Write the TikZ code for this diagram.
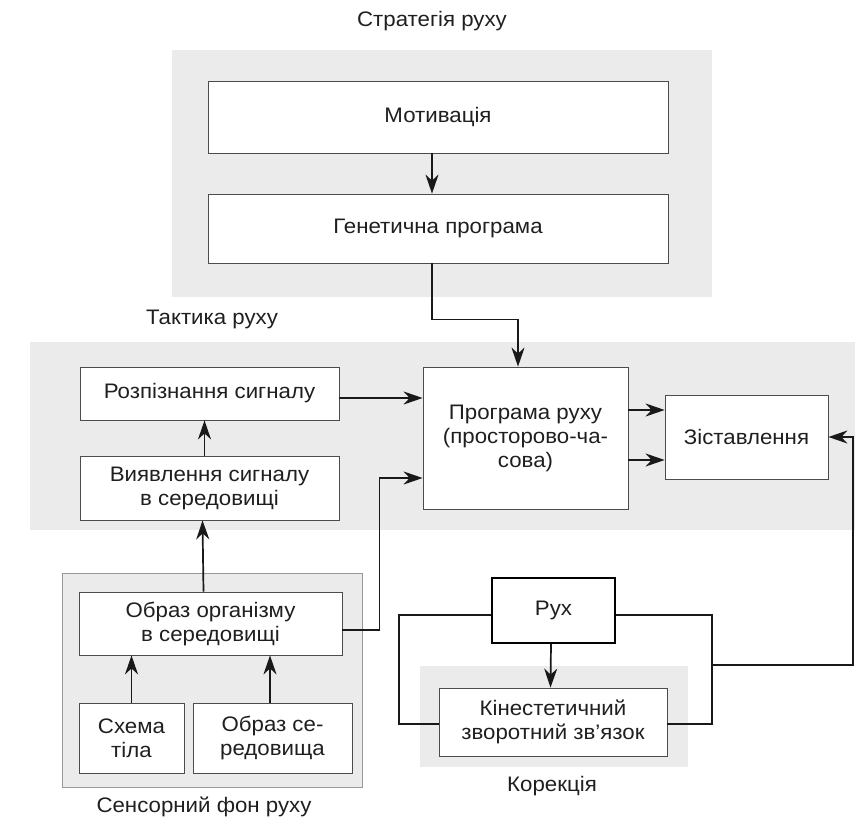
\documentclass[tikz,border=0pt]{standalone}
\usepackage{fontspec}
\setmainfont[FakeStretch=1.06]{Liberation Sans}
\usetikzlibrary{arrows.meta}

\begin{document}
\begin{tikzpicture}[x=1pt,y=-1pt,
  txt/.style={font=\fontsize{21}{24}\selectfont, text=black!88},
  panel/.style={fill=black!8, draw=none},
  box/.style={txt, draw=black!70, line width=0.8pt, fill=white, align=center, inner sep=0pt},
  conn/.style={line width=1.7pt, draw=black!90},
  arr/.style={conn, -{Stealth[length=19pt,width=13pt,inset=6pt]}}
]
\useasboundingbox (0,0) rectangle (855,821);

% shaded groups
\fill[panel] (172,50) rectangle (712,297);
\fill[panel] (30,342) rectangle (855,530);
\filldraw[panel, draw=black!40, line width=0.6pt] (62,573) rectangle (362,787);
\fill[panel] (420,666) rectangle (688,767);

% group captions
\node[txt] (capS) at (432,21) {Стратегія руху};
\node[txt] (capT) at (212,319) {Тактика руху};
\node[txt] (capF) at (204,807) {Сенсорний фон руху};
\node[txt] (capK) at (552,786) {Корекція};

% strategy
\node[box, minimum width=460pt, minimum height=72pt] (mot) at (438,117) {Мотивація};
\node[box, minimum width=460pt, minimum height=69pt] (gen) at (438,228.5) {Генетична програма};

% tactics
\node[box, minimum width=259pt, minimum height=53pt] (rec) at (209.5,393.5) {Розпізнання сигналу};
\node[box, minimum width=259pt, minimum height=64pt] (det) at (209.5,488) {Виявлення сигналу\\в середовищі};
\node[box, minimum width=205pt, minimum height=142pt] (prog) at (525.5,438) {Програма руху\\(просторово-ча-\\сова)};
\node[box, minimum width=163pt, minimum height=84pt] (cmp) at (746.5,437) {Зіставлення};

% sensory background
\node[box, minimum width=263pt, minimum height=63pt] (obr) at (210.5,623.5) {Образ організму\\в середовищі};
\node[box, minimum width=105pt, minimum height=70pt] (sch) at (131.5,738) {Схема\\тіла};
\node[box, minimum width=159pt, minimum height=70pt] (env) at (272.5,738) {Образ се-\\редовища};

% correction
\node[box, draw=black, line width=1.8pt, minimum width=123pt, minimum height=65pt] (ruh) at (553.5,610.5) {Рух};
\node[box, minimum width=228pt, minimum height=68pt] (kin) at (553,722) {Кінестетичний\\зворотний зв’язок};

% corner points of the feedback loop
\coordinate (lc) at (399,615);
\coordinate (rc) at (712,615);
\coordinate (fb) at (853,665);

% connectors
\draw[arr] ([xshift=-6pt]mot.south) -- ([xshift=-6pt]gen.north);
\draw[arr] ([xshift=-6pt]gen.south) |- ++(0,56) -| ([xshift=-7.5pt]prog.north);
\draw[arr] ([yshift=-4.5pt]rec.east) -- ([yshift=-4.5pt]rec.east -| prog.west);
\draw[arr] ([xshift=-5pt]det.north) -- ([xshift=-5pt]rec.south);
\draw[arr] ([xshift=-7pt]obr.north) -- ([xshift=-7pt]det.south);
\draw[arr] ([yshift=-6.5pt]obr.east) -- ++(37,0) |- ([yshift=-40pt]prog.west);
\draw[arr] ([yshift=28pt]prog.east) -- ([yshift=28pt]prog.east -| cmp.west);
\draw[arr] ([yshift=-22pt]prog.east) -- ([yshift=-22pt]prog.east -| cmp.west);
\draw[arr] (sch.north) -- (sch.north |- obr.south);
\draw[arr] ([xshift=-2.5pt]env.north) -- ([xshift=-2.5pt]env.north |- obr.south);
\draw[arr] ([xshift=-2.5pt]ruh.south) -- ([xshift=-2.5pt]kin.north);
\draw[conn, line width=1.8pt] (ruh.west |- lc) -- (lc) |- ([yshift=-2pt]kin.west);
\draw[conn, line width=1.8pt] (ruh.east |- rc) -- (rc) |- ([yshift=-2pt]kin.east);
\draw[arr, line width=1.8pt] (rc |- fb) -- (fb) |- (cmp.east);
\end{tikzpicture}
\end{document}
